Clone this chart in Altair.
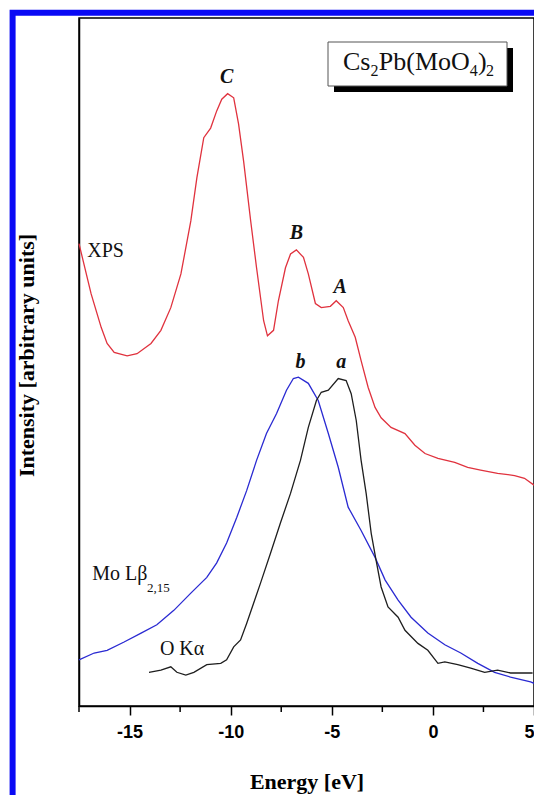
import altair as alt
import pandas as pd

# ---------------- data ----------------
xps_energy = [-17.5, -16.9, -16.4, -16.11, -15.76, -15.12, -14.63, -13.94, -13.45, -12.96,
              -12.46, -11.97, -11.67, -11.33, -10.99, -10.69, -10.44, -10.15, -9.85, -9.61,
              -9.36, -9.01, -8.72, -8.37, -8.18, -7.88, -7.64, -7.29, -7.04, -6.75,
              -6.40, -6.16, -5.81, -5.52, -5.07, -4.78, -4.43, -4.19, -3.84, -3.55,
              -3.20, -2.86, -2.56, -2.07, -1.38, -0.89, -0.39, 0.25, 1.08, 1.72,
              2.36, 3.20, 4.04, 4.53, 5.0]
xps_intensity = [67.2, 59.9, 55.0, 52.7, 51.4, 50.9, 51.2, 52.7, 54.6, 57.9,
                 62.8, 70.5, 76.8, 82.6, 84.0, 86.5, 88.2, 89.0, 88.4, 84.6,
                 79.2, 70.5, 63.7, 56.0, 53.8, 54.6, 58.9, 63.7, 65.7, 66.3,
                 65.2, 62.8, 58.5, 57.9, 58.1, 58.9, 57.9, 56.0, 53.6, 50.2,
                 46.3, 43.4, 41.9, 40.5, 39.6, 37.9, 36.7, 36.0, 35.4, 34.7,
                 34.3, 33.8, 33.5, 33.1, 32.1]

mo_energy = [-17.5, -16.75, -16.11, -15.27, -14.43, -13.65, -12.81, -11.97, -11.18, -10.69,
             -10.20, -9.70, -9.21, -8.72, -8.23, -7.73, -7.24, -6.90, -6.65, -6.16,
             -5.67, -5.17, -4.68, -4.19, -3.55, -2.86, -2.36, -1.72, -1.08, -0.25,
             0.59, 1.38, 2.22, 3.05, 3.84, 4.83, 5.0]
mo_intensity = [6.7, 7.7, 8.1, 9.3, 10.6, 11.8, 13.9, 16.4, 18.7, 20.8,
                23.7, 27.4, 31.3, 35.7, 39.6, 42.5, 45.9, 47.6, 47.8, 46.9,
                44.4, 39.6, 34.7, 28.9, 25.5, 21.6, 18.3, 15.4, 12.9, 10.6,
                8.9, 7.7, 6.2, 4.9, 4.2, 3.5, 3.3]

ok_energy = [-14.04, -13.45, -12.96, -12.66, -12.22, -11.82, -11.18, -10.49, -10.20, -9.85,
             -9.51, -9.21, -8.87, -8.52, -8.03, -7.54, -7.04, -6.55, -6.16, -5.76,
             -5.52, -5.17, -4.68, -4.29, -4.04, -3.79, -3.55, -3.30, -3.05, -2.81,
             -2.56, -2.22, -1.72, -1.38, -0.74, -0.25, 0.25, 0.59, 1.23, 1.87,
             2.56, 3.20, 3.84, 4.53, 4.93]
ok_intensity = [4.9, 5.2, 5.7, 4.9, 4.5, 4.9, 6.0, 6.2, 6.7, 8.6,
                9.6, 12.0, 14.9, 17.9, 22.2, 26.6, 30.9, 35.7, 40.5, 44.4,
                45.6, 45.9, 47.6, 47.3, 45.4, 41.5, 35.7, 30.9, 25.1, 21.2,
                17.3, 14.4, 12.9, 11.0, 9.1, 8.1, 6.2, 6.4, 6.0, 5.5,
                4.9, 5.2, 4.8, 4.8, 4.8]

series_names = ["XPS", "Mo Lb", "O Ka"]
series_colors = ["#e0323e", "#2a2ad2", "#1e1e1e"]

major_ticks = [-15, -10, -5, 0, 5]
minor_ticks = [-17.5, -12.5, -7.5, -2.5, 2.5]

# plain annotations (energy, intensity)
plain_text = ["XPS", "Mo L\u03b2", "O K\u03b1"]
plain_x = [-17.09, -16.85, -13.50]
plain_y = [65.2, 18.3, 7.4]
sub_text = ["2,15"]
sub_x = [-14.14]
sub_y = [16.6]

peak_text = ["C", "B", "A", "b", "a"]
peak_x = [-10.20, -6.75, -4.58, -6.55, -4.53]
peak_y = [90.6, 67.9, 60.1, 49.1, 49.1]

# compound label pieces
formula_parts = ["Cs", "2", "Pb(MoO", "4", ")", "2"]
formula_is_sub = [False, True, False, True, False, True]

X_TITLE = "Energy [eV]"
Y_TITLE = "Intensity [arbitrary units]"

# ---------------- build ----------------
rows = []
for name, es, vs in [(series_names[0], xps_energy, xps_intensity),
                     (series_names[1], mo_energy, mo_intensity),
                     (series_names[2], ok_energy, ok_intensity)]:
    for e, v in zip(es, vs):
        rows.append({"series": name, "energy": e, "intensity": v})
df = pd.DataFrame(rows)

xs = alt.Scale(domain=[-17.5, 5], nice=False, zero=False)
ys = alt.Scale(domain=[0, 100], nice=False, zero=False)

W, H = 455, 688

lines = alt.Chart(df).mark_line(strokeWidth=1.3).encode(
    x=alt.X("energy:Q", scale=xs,
            axis=alt.Axis(values=major_ticks, title=X_TITLE,
                          labelExpr="'' + datum.value",
                          labelFont="Liberation Sans", labelFontWeight="bold",
                          labelFontSize=18, labelColor="black", labelPadding=8,
                          tickSize=9, tickWidth=1.5, tickColor="black",
                          domainColor="black", domainWidth=1.5,
                          titleFont="Liberation Serif", titleFontSize=22,
                          titleFontWeight="bold", titleColor="black",
                          titleX=W / 2, titleY=82, titleAlign="center",
                          titleBaseline="alphabetic", grid=False)),
    y=alt.Y("intensity:Q", scale=ys,
            axis=alt.Axis(title=Y_TITLE, labels=False, ticks=False,
                          domainColor="black", domainWidth=1.5,
                          titleFont="Liberation Serif", titleFontSize=22,
                          titleFontWeight="bold", titleColor="black",
                          titleAngle=270, titleX=-46, titleY=337,
                          titleAlign="center", titleBaseline="alphabetic", grid=False)),
    color=alt.Color("series:N", scale=alt.Scale(domain=series_names, range=series_colors),
                    legend=None),
    detail="series:N",
)

minor = alt.Chart(pd.DataFrame({"t": minor_ticks})).mark_rule(
    color="black", strokeWidth=1.5).encode(
    x=alt.X("t:Q", scale=xs, title=X_TITLE),
    y=alt.value(H), y2=alt.value(H + 6))


def text_layer(texts, xv, yv, **kw):
    return alt.Chart(pd.DataFrame({"t": texts, "e": xv, "v": yv})).mark_text(
        baseline="alphabetic", color="#111", **kw
    ).encode(x=alt.X("e:Q", scale=xs, title=X_TITLE),
             y=alt.Y("v:Q", scale=ys, title=Y_TITLE), text="t:N")


plain = text_layer(plain_text, plain_x, plain_y, font="Liberation Serif", fontSize=20, align="left")
sub = text_layer(sub_text, sub_x, sub_y, font="Liberation Serif", fontSize=13, align="left")
peaks = text_layer(peak_text, peak_x, peak_y, font="Liberation Serif", fontSize=20,
                   fontWeight="bold", fontStyle="italic", align="center")

one = pd.DataFrame({"k": [0]})
# boxed compound label with drop shadow
bx0, bx1, by0, by1 = 249, 428, 24, 68
shadow = alt.Chart(one).mark_rect(fill="black").encode(
    x=alt.value(bx0 + 6), x2=alt.value(bx1 + 6), y=alt.value(by0 + 6), y2=alt.value(by1 + 6))
box = alt.Chart(one).mark_rect(fill="white", stroke="#555555", strokeWidth=1).encode(
    x=alt.value(bx0), x2=alt.value(bx1), y=alt.value(by0), y2=alt.value(by1))

formula_layers = []
cx = 264.0
for part, is_sub in zip(formula_parts, formula_is_sub):
    fs = 16 if is_sub else 26
    formula_layers.append(
        alt.Chart(one).mark_text(font="Liberation Serif", fontSize=fs, align="left",
                                 baseline="alphabetic", color="#111", text=part).encode(
            x=alt.value(cx), y=alt.value(58 if is_sub else 52)))
    cx += (8.3 if is_sub else {"Cs": 27.5, "Pb(MoO": 91.0, ")": 8.0}[part])

frame = alt.Chart(one).mark_rect(fillOpacity=0, stroke="#0a0af5", strokeWidth=6).encode(
    x=alt.value(-66.4), x2=alt.value(470), y=alt.value(-5.3), y2=alt.value(800))

chart = alt.layer(lines, minor, plain, sub, peaks, shadow, box, *formula_layers, frame).properties(
    width=W, height=H,
    autosize=alt.AutoSizeParams(type="none"),
    padding={"left": 71, "top": 10, "right": 0, "bottom": 89},
    background="white",
).configure_view(stroke="black", strokeWidth=1.5)

chart.save("out.html", embed_options={"renderer": "svg", "actions": False})
